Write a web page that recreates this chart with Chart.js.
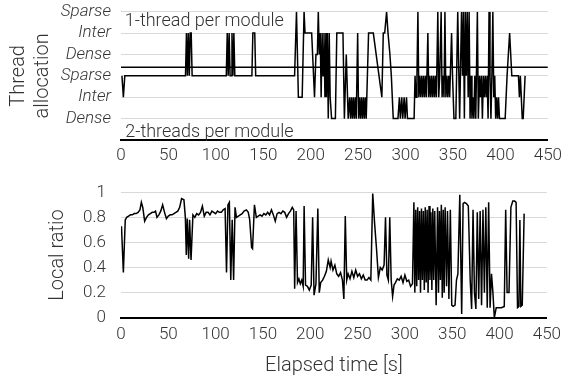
<!DOCTYPE html>
<html><head><meta charset="utf-8">
<script src="https://cdn.jsdelivr.net/npm/chart.js@4.4.1/dist/chart.umd.min.js"></script>
<style>
html,body{margin:0;padding:0;background:#fff;}
#wrap{position:relative;width:568px;height:379px;overflow:hidden;}
#c1{position:absolute;left:0;top:0;}
#c2{position:absolute;left:0;top:170px;}
</style></head><body>
<div id="wrap"><canvas id="c1" width="568" height="170"></canvas><canvas id="c2" width="568" height="209"></canvas></div>
<script>
// ---- data ----
const xTicks = [0,50,100,150,200,250,300,350,400,450];
const allocTickValues = [1,2,3,4,5,6];
const allocTickLabels = ['Dense','Inter','Sparse','Dense','Inter','Sparse'];
const groupLabels = ['1-thread per module','2-threads per module'];
const separatorTimes = [0,450];
const separatorValues = [3.4,3.4];

const allocTimes = [1,2.5,4,68,69,70,71,72,73,74,75,111,112,113,114,115,116,117,118,119,120,138,139,141,142,183,185,187,191,193,194,201,204,205.5,207,208,209,210,211,212,213,214,215,216,216.5,217.5,218.5,219.5,220.5,222,226,227.5,234,235.5,237.5,239.5,241,242,243,244,245,246,247,248,249.5,250.5,251.5,252.5,253.5,254.5,255.5,256.5,257.5,258.5,261,266,275,276.5,278,280,281.5,283.5,285,287,292,293.5,294.5,296,297,298.5,299.5,301,302,304,309,310,311,312,313,314,315,316,317,318,319,320,321,322,323.5,324.5,325.5,326.5,327.5,328.5,329.5,330.5,331.5,332.5,334,335,336,337.5,338.5,339.5,340.5,341.5,342.5,343.5,344.5,345.5,346.5,348.5,349.5,351,353,355,357,359,360,361,362,363,364,365,366,367,368,369,370,371,372,373,374,375.7,376.7,378,379,380,381,382,383,384,385,386,387,388,389,390,391,392,393,394,395,396,397,398,399,400,405,407,409.7,412,419,420,421,423,424,426];
const allocValues = [3,2,3,3,5,3,5,3,5,5,3,3,5,3,5,3,3,5,3,5,3,3,5,5,3,3,6,2,2,6,5,5,2,4,4,6,4,5,2,5,3,5,2,5,2,5,1,5,2,1,1,5,5,1,4,1,2,1,2,1,2,1,2,1,5,1,2,1,2,1,2,1,2,1,5,5,2,5,5,6,5,4,3,1,1,2,1,2,1,2,1,2,1,1,1,3,2,3,6,2,3,2,3,2,3,2,3,2,5,2,3,2,3,2,3,2,3,2,6,2,3,6,2,3,2,6,2,3,2,3,2,5,3,1,1,6,1,6,3,6,1,6,3,6,2,6,1,3,1,2,1,3,1,6,1,3,2,3,1,3,2,3,2,3,1,6,3,1,3,6,2,3,1,2,1,2,1,1,1,3,5,3,3,2,3,1,1,3];

const ratioTimes = [0.5,2.5,4.5,6,8,10,12,14,16,18,20,21.5,23,25,27,29,31,33,35,36.5,38,40,42,44,46,48,50,52,54,56,58,60,62,64,66.5,68,69,70,71.5,72.5,74,76,78,80,82,84,86,88,90,92,94,96,98,100,102,104,106,108,110,111.5,113,114.5,116,117.5,119,120.5,122,124,126,128,130,132.5,134.5,136,138,139,141,143,145,147,149,151,153,155,157,159,161,163,165,167,169,171,173,175,177,179,181,182.5,183.5,185,186.5,188,189.5,191,192.5,193.5,195,197,199,201,202.5,204,206,208,209.5,211,213,215,217,219,221,222,224,226,228,230,232,234,235.5,237,238.5,240,242,244,246,248,250,252,254,256,258,260,262,264,266,268,270,272,274,276,278,279.5,281,282.5,284,285.5,287,288.5,290,292,294,296,298,300,302,304,306,308,309.5,310.5,311.5,312.5,313.5,314.5,315.5,316.5,317.5,318.5,319.5,320.5,321.5,322.5,323.5,324.5,325.5,326.5,327.5,328.5,329.5,330.5,331.5,333,334.5,335.5,336.5,337.5,338.5,339.5,340.5,341.5,342.5,344,345,346.5,348,349.5,351,353,354.5,356,358,360,361.5,363,365,367,369,370.5,372,373.5,375,376.5,378,379.5,381,382.5,384,385.5,387,388.5,390,391.5,393,394.5,396.5,399,402,405,406.5,408,410,412,414,416,417.5,419,420.5,421.5,422.5,424,426];
const ratioValues = [0.73,0.36,0.78,0.8,0.81,0.82,0.82,0.83,0.83,0.84,0.86,0.92,0.88,0.77,0.8,0.82,0.83,0.84,0.84,0.85,0.8,0.82,0.85,0.9,0.84,0.79,0.81,0.82,0.82,0.83,0.84,0.85,0.88,0.95,0.94,0.8,0.5,0.79,0.47,0.78,0.46,0.82,0.8,0.83,0.82,0.84,0.89,0.81,0.84,0.84,0.82,0.85,0.84,0.83,0.85,0.84,0.84,0.86,0.87,0.36,0.9,0.92,0.3,0.78,0.3,0.88,0.8,0.81,0.82,0.83,0.85,0.86,0.84,0.78,0.56,0.55,0.9,0.8,0.81,0.82,0.81,0.83,0.82,0.84,0.82,0.86,0.82,0.77,0.83,0.84,0.83,0.85,0.84,0.8,0.83,0.85,0.88,0.86,0.23,0.85,0.28,0.31,0.27,0.3,0.25,0.89,0.26,0.25,0.22,0.26,0.8,0.18,0.27,0.87,0.2,0.28,0.3,0.33,0.37,0.46,0.4,0.45,0.38,0.42,0.35,0.33,0.36,0.3,0.15,0.81,0.3,0.35,0.31,0.37,0.32,0.38,0.33,0.35,0.31,0.34,0.3,0.3,0.32,0.3,0.99,0.75,0.55,0.32,0.4,0.38,0.42,0.8,0.34,0.3,0.8,0.3,0.17,0.26,0.28,0.31,0.3,0.33,0.28,0.34,0.29,0.3,0.25,0.27,0.92,0.2,0.86,0.25,0.88,0.3,0.85,0.2,0.87,0.3,0.85,0.22,0.88,0.28,0.86,0.2,0.89,0.3,0.84,0.22,0.87,0.3,0.85,0.1,0.88,0.2,0.85,0.3,0.9,0.16,0.86,0.2,0.88,0.25,0.85,0.15,0.86,0.1,0.09,0.1,0.3,0.35,0.98,0.03,0.91,0.92,0.91,0.89,0.3,0.07,0.86,0.2,0.07,0.84,0.15,0.85,0.1,0.86,0.2,0.88,0.08,0.92,0.08,0.35,0.2,0.0,0.08,0.08,0.08,0.09,0.86,0.2,0.2,0.88,0.93,0.93,0.92,0.08,0.09,0.78,0.09,0.1,0.83];

const ratioTicks = [0,0.2,0.4,0.6,0.8,1];

// ---- styling ----
const FAM = 'Roboto, "Liberation Sans", Arial, sans-serif';
const TXT = '#333';
const GRID = '#d9d9d9';

const pts = (ts, vs) => ts.map((t, i) => ({x: t, y: vs[i]}));

const groupLabelPlugin = {
  id: 'groupLabels',
  afterDatasetsDraw(chart) {
    const {ctx, scales: {x, y}} = chart;
    ctx.save();
    ctx.font = '300 18px ' + FAM;
    ctx.fillStyle = TXT;
    ctx.textBaseline = 'middle';
    ctx.textAlign = 'left';
    ctx.fillText(groupLabels[0], x.getPixelForValue(4), y.getPixelForValue(5.53));
    ctx.fillText(groupLabels[1], x.getPixelForValue(4.5), y.getPixelForValue(0.33));
    ctx.restore();
  }
};

const xScale = (h, pad) => ({
  type: 'linear', min: 0, max: 450,
  afterBuildTicks(s) { s.ticks = xTicks.map(v => ({value: v})); },
  ticks: {color: TXT, padding: pad, maxRotation: 0, font: {family: FAM, size: 17, weight: 300}},
  grid: {display: false, drawTicks: false},
  border: {color: '#000', width: 2},
  afterFit(s) { s.height = h; }
});

new Chart(document.getElementById('c1'), {
  type: 'line',
  data: {datasets: [
    {data: pts(allocTimes, allocValues), borderColor: '#000', borderWidth: 1.5, pointRadius: 0, tension: 0, fill: false},
    {data: pts(separatorTimes, separatorValues), borderColor: '#000', borderWidth: 1.5, pointRadius: 0, fill: false}
  ]},
  options: {
    responsive: false, animation: false, events: [],
    layout: {padding: {left: 0, right: 15, top: 11.7, bottom: 0}},
    plugins: {legend: {display: false}, tooltip: {enabled: false}},
    scales: {
      x: xScale(30, 6),
      y: {
        min: 0, max: 6,
        afterBuildTicks(s) { s.ticks = allocTickValues.map(v => ({value: v})); },
        ticks: {color: TXT, padding: 10, font: {family: FAM, size: 17, style: 'italic', weight: 300},
          callback: (v) => allocTickLabels[allocTickValues.indexOf(v)]},
        grid: {color: GRID, lineWidth: 1, drawTicks: false},
        border: {display: false},
        title: {display: true, text: ['Thread', 'allocation'], color: TXT,
          font: {family: FAM, size: 20, weight: 300, lineHeight: '24px'}, padding: {top: 6.5, bottom: 0}},
        afterFit(s) { s.width = 121; s.paddingTop = 0; s.paddingBottom = 0; }
      }
    }
  },
  plugins: [groupLabelPlugin]
});

new Chart(document.getElementById('c2'), {
  type: 'line',
  data: {datasets: [
    {data: pts(ratioTimes, ratioValues), borderColor: '#000', borderWidth: 1.5, pointRadius: 0, tension: 0, fill: false}
  ]},
  options: {
    responsive: false, animation: false, events: [],
    layout: {padding: {left: 0, right: 15, top: 22.3, bottom: 0}},
    plugins: {legend: {display: false}, tooltip: {enabled: false}},
    scales: {
      x: Object.assign(xScale(61.3, 7), {
        title: {display: true, text: 'Elapsed time [s]', color: TXT,
          font: {family: FAM, size: 20, weight: 300}, padding: {top: 0, bottom: 1}}
      }),
      y: {
        min: 0, max: 1,
        afterBuildTicks(s) { s.ticks = ratioTicks.map(v => ({value: v})); },
        ticks: {color: TXT, padding: 15, font: {family: FAM, size: 17, weight: 300},
          callback: (v) => String(v)},
        grid: {color: (c) => c.tick && c.tick.value === 0 ? 'rgba(0,0,0,0)' : GRID, lineWidth: 1, drawTicks: false},
        border: {display: false},
        title: {display: true, text: 'Local ratio', color: TXT,
          font: {family: FAM, size: 20, weight: 300}, padding: {top: 45.5, bottom: 0}},
        afterFit(s) { s.width = 121; s.paddingTop = 0; s.paddingBottom = 0; }
      }
    }
  }
});
</script>
</body></html>
